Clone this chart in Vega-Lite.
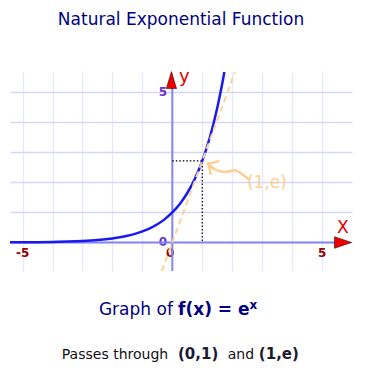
{
  "$schema": "https://vega.github.io/schema/vega-lite/v6.json",
  "width": 342,
  "height": 199,
  "autosize": {"type": "none"},
  "padding": {"left": 10, "top": 72, "right": 27, "bottom": 109},
  "background": "white",
  "data": {"values": [{}]},
  "title": {
    "text": "Natural Exponential Function",
    "font": "DejaVu Sans",
    "fontSize": 17,
    "fontWeight": "normal",
    "color": "#000080",
    "anchor": "middle",
    "baseline": "alphabetic",
    "frame": "group",
    "offset": 26
  },
  "config": {
    "view": {"stroke": null},
    "font": "DejaVu Sans"
  },
  "datasets": {
    "curve": [
      {"x": -5.42, "y": 0.0044},
      {"x": -5.0, "y": 0.0067},
      {"x": -4.5, "y": 0.0111},
      {"x": -4.0, "y": 0.0183},
      {"x": -3.5, "y": 0.0302},
      {"x": -3.0, "y": 0.0498},
      {"x": -2.5, "y": 0.0821},
      {"x": -2.0, "y": 0.1353},
      {"x": -1.75, "y": 0.1738},
      {"x": -1.5, "y": 0.2231},
      {"x": -1.25, "y": 0.2865},
      {"x": -1.0, "y": 0.3679},
      {"x": -0.75, "y": 0.4724},
      {"x": -0.5, "y": 0.6065},
      {"x": -0.25, "y": 0.7788},
      {"x": 0.0, "y": 1.0},
      {"x": 0.25, "y": 1.284},
      {"x": 0.5, "y": 1.6487},
      {"x": 0.75, "y": 2.117},
      {"x": 1.0, "y": 2.7183},
      {"x": 1.25, "y": 3.4903},
      {"x": 1.5, "y": 4.4817},
      {"x": 1.6, "y": 4.953},
      {"x": 1.7, "y": 5.4739},
      {"x": 1.76, "y": 5.8124}
    ],
    "tangent": [
      {"x": -0.35, "y": -0.95},
      {"x": 2.09, "y": 5.68}
    ],
    "dotted": [
      {"i": 0, "x": 0, "y": 2.7183},
      {"i": 1, "x": 1, "y": 2.7183},
      {"i": 2, "x": 1, "y": 0}
    ],
    "squiggle": [
      {"part": "tail", "i": 0, "x": 1.19, "y": 2.63},
      {"part": "tail", "i": 1, "x": 1.47, "y": 2.41},
      {"part": "tail", "i": 2, "x": 1.8, "y": 2.35},
      {"part": "tail", "i": 3, "x": 2.08, "y": 2.41},
      {"part": "tail", "i": 4, "x": 2.3, "y": 2.3},
      {"part": "tail", "i": 5, "x": 2.52, "y": 2.13},
      {"part": "head", "i": 0, "x": 1.54, "y": 2.71},
      {"part": "head", "i": 1, "x": 1.19, "y": 2.63},
      {"part": "head", "i": 2, "x": 1.28, "y": 2.28}
    ],
    "xlabels": [
      {"x": -5, "label": "-5"},
      {"x": 5, "label": "5"},
      {"x": -0.07, "label": "0"}
    ],
    "ylabels": [
      {"y": 4.88, "label": "5"},
      {"y": -0.11, "label": "0"}
    ]
  },
  "encoding": {
    "x": {
      "type": "quantitative",
      "scale": {"domain": [-5.42, 6.0], "nice": false, "zero": false},
      "axis": {
        "values": [-5, -4, -3, -2, -1, 0, 1, 2, 3, 4, 5],
        "grid": true, "gridColor": "#e8e8fc", "gridWidth": 1.5,
        "labels": false, "ticks": false, "domain": false, "title": null
      }
    },
    "y": {
      "type": "quantitative",
      "scale": {"domain": [-0.95, 5.68], "nice": false, "zero": false},
      "axis": {
        "values": [0, 1, 2, 3, 4, 5],
        "grid": true, "gridColor": "#d6d6f8", "gridWidth": 1.5,
        "labels": false, "ticks": false, "domain": false, "title": null
      }
    }
  },
  "layer": [
    {
      "data": {"name": "xlabels"},
      "mark": {"type": "text", "color": "#990000", "fontWeight": "bold", "fontSize": 12, "baseline": "alphabetic", "align": "center"},
      "encoding": {
        "x": {"field": "x", "type": "quantitative"},
        "y": {"datum": -0.47},
        "text": {"field": "label"}
      }
    },
    {
      "data": {"name": "ylabels"},
      "mark": {"type": "text", "color": "#6633cc", "fontWeight": "bold", "fontSize": 12, "baseline": "alphabetic", "align": "right"},
      "encoding": {
        "x": {"datum": -0.17},
        "y": {"field": "y", "type": "quantitative"},
        "text": {"field": "label"}
      }
    },
    {
      "mark": {"type": "rule", "color": "#8585f5", "strokeWidth": 2},
      "encoding": {"x": {"datum": -5.42}, "x2": {"datum": 5.45}, "y": {"datum": 0}}
    },
    {
      "mark": {"type": "rule", "color": "#8585f5", "strokeWidth": 2},
      "encoding": {"x": {"datum": 0}, "y": {"datum": -0.95}, "y2": {"datum": 5.2}}
    },
    {
      "data": {"name": "dotted"},
      "mark": {"type": "line", "color": "#000000", "strokeWidth": 1.2, "strokeDash": [1.5, 2]},
      "encoding": {
        "x": {"field": "x", "type": "quantitative"},
        "y": {"field": "y", "type": "quantitative"},
        "order": {"field": "i"}
      }
    },
    {
      "data": {"name": "curve"},
      "mark": {"type": "line", "color": "#1a1aee", "strokeWidth": 2.5, "interpolate": "monotone", "clip": true},
      "encoding": {
        "x": {"field": "x", "type": "quantitative"},
        "y": {"field": "y", "type": "quantitative"}
      }
    },
    {
      "data": {"name": "tangent"},
      "mark": {"type": "line", "color": "#fdd39c", "strokeWidth": 2, "strokeDash": [6, 4], "clip": true},
      "encoding": {
        "x": {"field": "x", "type": "quantitative"},
        "y": {"field": "y", "type": "quantitative"}
      }
    },
    {
      "data": {"name": "squiggle"},
      "mark": {"type": "line", "color": "#fccf94", "strokeWidth": 2.5, "interpolate": "monotone", "strokeCap": "round", "strokeJoin": "round"},
      "encoding": {
        "x": {"field": "x", "type": "quantitative"},
        "y": {"field": "y", "type": "quantitative"},
        "detail": {"field": "part"},
        "order": {"field": "i"}
      }
    },
    {
      "mark": {"type": "text", "text": "(1,e)", "color": "#fccf94", "fontSize": 17, "align": "center", "baseline": "middle"},
      "encoding": {"x": {"datum": 3.16}, "y": {"datum": 1.99}}
    },
    {
      "mark": {"type": "point", "shape": "M-1,-0.68L1,0L-1,0.68Z", "size": 289, "filled": true, "fill": "#ee0000", "stroke": "#440000", "strokeWidth": 0.6, "opacity": 1},
      "encoding": {"x": {"datum": 5.7}, "y": {"datum": 0}}
    },
    {
      "mark": {"type": "point", "shape": "M-0.6,1L0,-1L0.6,1Z", "size": 289, "filled": true, "fill": "#ee0000", "stroke": "#440000", "strokeWidth": 0.6, "opacity": 1},
      "encoding": {"x": {"datum": -0.03}, "y": {"datum": 5.41}}
    },
    {
      "mark": {"type": "text", "text": "X", "color": "#dd0000", "fontSize": 17, "align": "center", "baseline": "middle"},
      "encoding": {"x": {"datum": 5.69}, "y": {"datum": 0.47}}
    },
    {
      "mark": {"type": "text", "text": "y", "color": "#dd0000", "fontSize": 18, "align": "center", "baseline": "middle"},
      "encoding": {"x": {"datum": 0.4}, "y": {"datum": 5.5}}
    },
    {
      "mark": {"type": "text", "text": "Graph of", "color": "#000080", "fontSize": 17, "align": "left", "baseline": "alphabetic"},
      "encoding": {"x": {"datum": -2.45}, "y": {"datum": -2.42}}
    },
    {
      "mark": {"type": "text", "text": "f(x) = e", "color": "#000080", "fontSize": 17, "fontWeight": "bold", "align": "left", "baseline": "alphabetic"},
      "encoding": {"x": {"datum": 0.19}, "y": {"datum": -2.42}}
    },
    {
      "mark": {"type": "text", "text": "x", "color": "#000080", "fontSize": 12, "fontWeight": "bold", "align": "left", "baseline": "alphabetic"},
      "encoding": {"x": {"datum": 2.58}, "y": {"datum": -2.2}}
    },
    {
      "mark": {"type": "text", "text": "Passes through", "color": "#111111", "fontSize": 14, "align": "left", "baseline": "alphabetic"},
      "encoding": {"x": {"datum": -3.69}, "y": {"datum": -3.89}}
    },
    {
      "mark": {"type": "text", "text": "(0,1)", "color": "#1a1a33", "fontSize": 15, "fontWeight": "bold", "align": "left", "baseline": "alphabetic"},
      "encoding": {"x": {"datum": 0.19}, "y": {"datum": -3.89}}
    },
    {
      "mark": {"type": "text", "text": "and", "color": "#111111", "fontSize": 14, "align": "left", "baseline": "alphabetic"},
      "encoding": {"x": {"datum": 1.85}, "y": {"datum": -3.89}}
    },
    {
      "mark": {"type": "text", "text": "(1,e)", "color": "#1a1a33", "fontSize": 15, "fontWeight": "bold", "align": "left", "baseline": "alphabetic"},
      "encoding": {"x": {"datum": 2.89}, "y": {"datum": -3.89}}
    }
  ]
}
